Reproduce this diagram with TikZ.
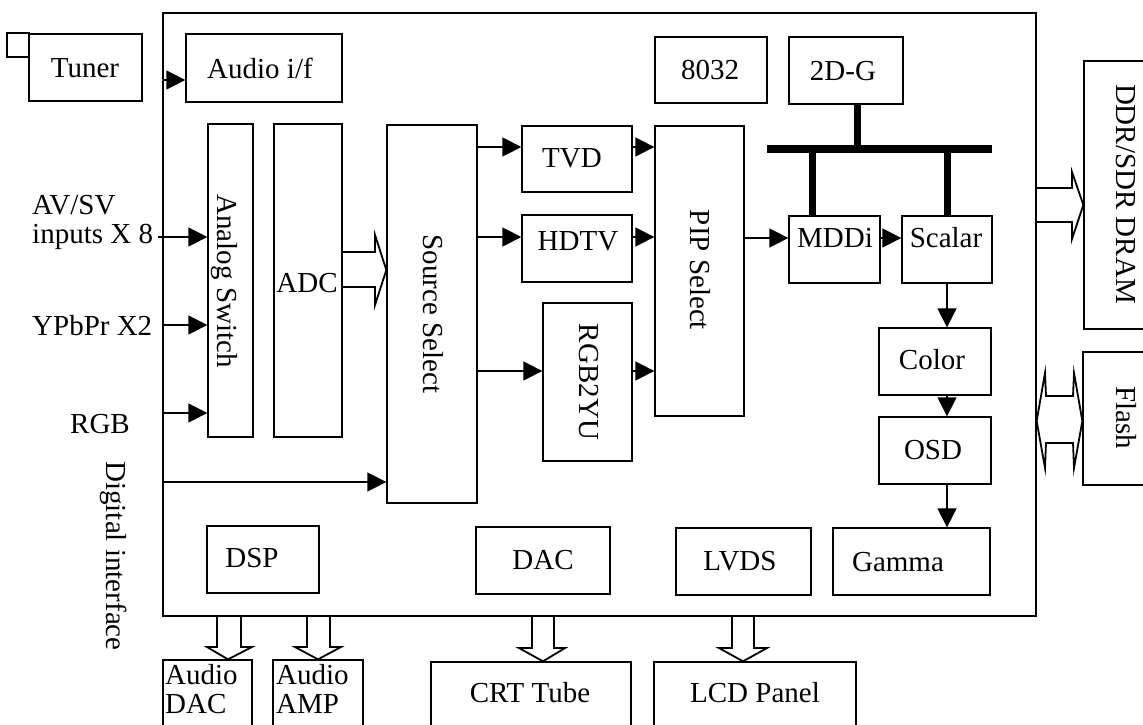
\documentclass[tikz,border=0pt]{standalone}
\usepackage{fontspec}
\setmainfont{Liberation Serif}
\usetikzlibrary{arrows.meta,fit}
\begin{document}
\begin{tikzpicture}[x=1pt,y=-1pt,
  box/.style={draw, line width=1.3pt, inner sep=0pt},
  lbl/.style={font=\fontsize{29}{29}\selectfont, inner sep=0pt},
  arr/.style={line width=1.5pt, -{Triangle[length=19pt,width=19pt]}},
  hollow/.style={draw, line width=1.8pt, line join=miter},
  bus/.style={line width=8pt}]
\path[use as bounding box, fill=white] (0,0) rectangle (1143,725);
\clip (0,0) rectangle (1143,725);

% main chip
\node[box, fit={(163,13)(1036,616)}] (chip) {};

% tuner
\node[box, fit={(7,33)(29,57)}] (ant) {};
\node[box, fit={(29,34)(142,101)}] (tuner) {};
\node[lbl] (tuner-t) at (85,68) {Tuner};

% inside blocks
\node[box, fit={(186,34)(342,102)}] (audioif) {};
\node[lbl] (audioif-t) at (260,68) {Audio i/f};
\node[box, fit={(208,124)(253,437)}] (aswitch) {};
\node[lbl, rotate=-90] (aswitch-t) at (224,281) {Analog Switch};
\node[box, fit={(274,124)(342,437)}] (adc) {};
\node[lbl] (adc-t) at (307,283) {ADC};
\node[box, fit={(387,125)(477,503)}] (srcsel) {};
\node[lbl, rotate=-90] (srcsel-t) at (433,314) {Source Select};
\node[box, fit={(522,126)(632,192)}] (tvd) {};
\node[lbl] (tvd-t) at (572,158) {TVD};
\node[box, fit={(522,215)(632,282)}] (hdtv) {};
\node[lbl] (hdtv-t) at (578,241) {HDTV};
\node[box, fit={(543,303)(632,461)}] (rgb2yu) {};
\node[lbl, rotate=-90] (rgb2yu-t) at (589,382) {RGB2YU};
\node[box, fit={(655,126)(744,416)}] (pip) {};
\node[lbl, rotate=-90] (pip-t) at (700,270) {PIP Select};
\node[box, fit={(655,37)(767,103)}] (c8032) {};
\node[lbl] (c8032-t) at (710,70) {8032};
\node[box, fit={(789,37)(903,104)}] (g2d) {};
\node[lbl] (g2d-t) at (843,71) {2D-G};
\node[box, fit={(789,216)(880,283)}] (mddi) {};
\node[lbl] (mddi-t) at (835,238) {MDDi};
\node[box, fit={(902,216)(992,283)}] (scalar) {};
\node[lbl] (scalar-t) at (946,238) {Scalar};
\node[box, fit={(879,328)(991,395)}] (color) {};
\node[lbl] (color-t) at (932,360) {Color};
\node[box, fit={(879,417)(991,484)}] (osd) {};
\node[lbl] (osd-t) at (933,450) {OSD};
\node[box, fit={(833,528)(990,595)}] (gamma) {};
\node[lbl] (gamma-t) at (898,562) {Gamma};
\node[box, fit={(676,528)(811,595)}] (lvds) {};
\node[lbl] (lvds-t) at (740,561) {LVDS};
\node[box, fit={(476,527)(610,594)}] (dac) {};
\node[lbl] (dac-t) at (543,560) {DAC};
\node[box, fit={(207,526)(319,593)}] (dsp) {};
\node[lbl] (dsp-t) at (252,558) {DSP};

% external blocks
\node[box, fit={(1084,61)(1180,329)}] (dram) {};
\node[lbl, rotate=-90] (dram-t) at (1126,194) {DDR/SDR DRAM};
\node[box, fit={(1083,352)(1180,485)}] (flash) {};
\node[lbl, rotate=-90] (flash-t) at (1126,418) {Flash};
\node[box, fit={(163,660)(252,760)}] (adac) {};
\node[lbl, align=left, anchor=north west] (adac-t) at (165,664) {Audio\\DAC};
\node[box, fit={(273,660)(363,760)}] (aamp) {};
\node[lbl, align=left, anchor=north west] (aamp-t) at (276,664) {Audio\\AMP};
\node[box, fit={(431,662)(631,760)}] (crt) {};
\node[lbl] (crt-t) at (530,693) {CRT Tube};
\node[box, fit={(654,662)(856,760)}] (lcd) {};
\node[lbl] (lcd-t) at (755,693) {LCD Panel};

% input labels
\node[lbl, align=left, anchor=north west] (avsv) at (32,195) {AV/SV\\inputs X 8};
\node[lbl, anchor=base west] (ypbpr) at (32,335) {YPbPr X2};
\node[lbl, anchor=base west] (rgb) at (70,433) {RGB};
\node[lbl, rotate=-90] (digif) at (114,556) {Digital interface};

% arrows
\coordinate (avin) at (158,237);
\draw[arr] (chip.west |- 0,80) -- (audioif.west |- 0,80);
\draw[arr] (avin) -- (aswitch.west |- avin);
\draw[arr] (chip.west |- 0,325) -- (aswitch.west |- 0,325);
\draw[arr] (chip.west |- 0,413) -- (aswitch.west |- 0,413);
\draw[arr] (chip.west |- 0,482) -- (srcsel.west |- 0,482);
\draw[arr] (srcsel.east |- 0,147) -- (tvd.west |- 0,147);
\draw[arr] (srcsel.east |- 0,237) -- (hdtv.west |- 0,237);
\draw[arr] (srcsel.east |- 0,371) -- (rgb2yu.west |- 0,371);
\draw[arr] (tvd.east |- 0,147) -- (pip.west |- 0,147);
\draw[arr] (hdtv.east |- 0,237) -- (pip.west |- 0,237);
\draw[arr] (rgb2yu.east |- 0,371) -- (pip.west |- 0,371);
\draw[arr] (pip.east |- 0,238) -- (mddi.west |- 0,238);
\draw[arr] (mddi.east |- 0,238) -- (scalar.west |- 0,238);
\draw[arr] (scalar.south -| 947,0) -- (color.north -| 947,0);
\draw[arr] (color.south -| 947,0) -- (osd.north -| 947,0);
\draw[arr] (osd.south -| 947,0) -- (gamma.north -| 947,0);

% bus
\coordinate (busL) at (767,149);
\coordinate (busR) at (992,149);
\draw[bus] (busL) -- (busR);
\draw[line width=7pt] (g2d.south -| 857,0) -- (busL -| 857,0);
\draw[line width=7pt] (busL -| 812,0) -- (mddi.north -| 812,0);
\draw[line width=7pt] (busL -| 947,0) -- (scalar.north -| 947,0);

% hollow arrows
\draw[hollow] (adc.east |- 0,252) -- (375,252) -- (375,235) -- (srcsel.west |- 0,270) -- (375,305) -- (375,287) -- (adc.east |- 0,287);
\draw[hollow] (chip.east |- 0,188) -- (1072,188) -- (1072,172) -- (dram.west |- 0,205) -- (1072,239) -- (1072,222) -- (chip.east |- 0,222);
\draw[hollow] (chip.east |- 0,421) -- (1045,373) -- (1046,396) -- (1073,396) -- (1074,373) -- (flash.west |- 0,421) -- (1074,468) -- (1073,443) -- (1046,443) -- (1045,468) -- cycle;
\draw[hollow] (chip.south -| 217,0) -- (217,647) -- (207,647) -- (adac.north -| 228,0) -- (252,647) -- (241,647) -- (chip.south -| 241,0);
\draw[hollow] (chip.south -| 307,0) -- (307,647) -- (295,647) -- (aamp.north -| 318,0) -- (341,647) -- (330,647) -- (chip.south -| 330,0);
\draw[hollow] (chip.south -| 532,0) -- (532,648) -- (519,648) -- (crt.north -| 543,0) -- (565,648) -- (554,648) -- (chip.south -| 554,0);
\draw[hollow] (chip.south -| 732,0) -- (732,648) -- (719,648) -- (lcd.north -| 743,0) -- (767,648) -- (754,648) -- (chip.south -| 754,0);
\end{tikzpicture}
\end{document}
